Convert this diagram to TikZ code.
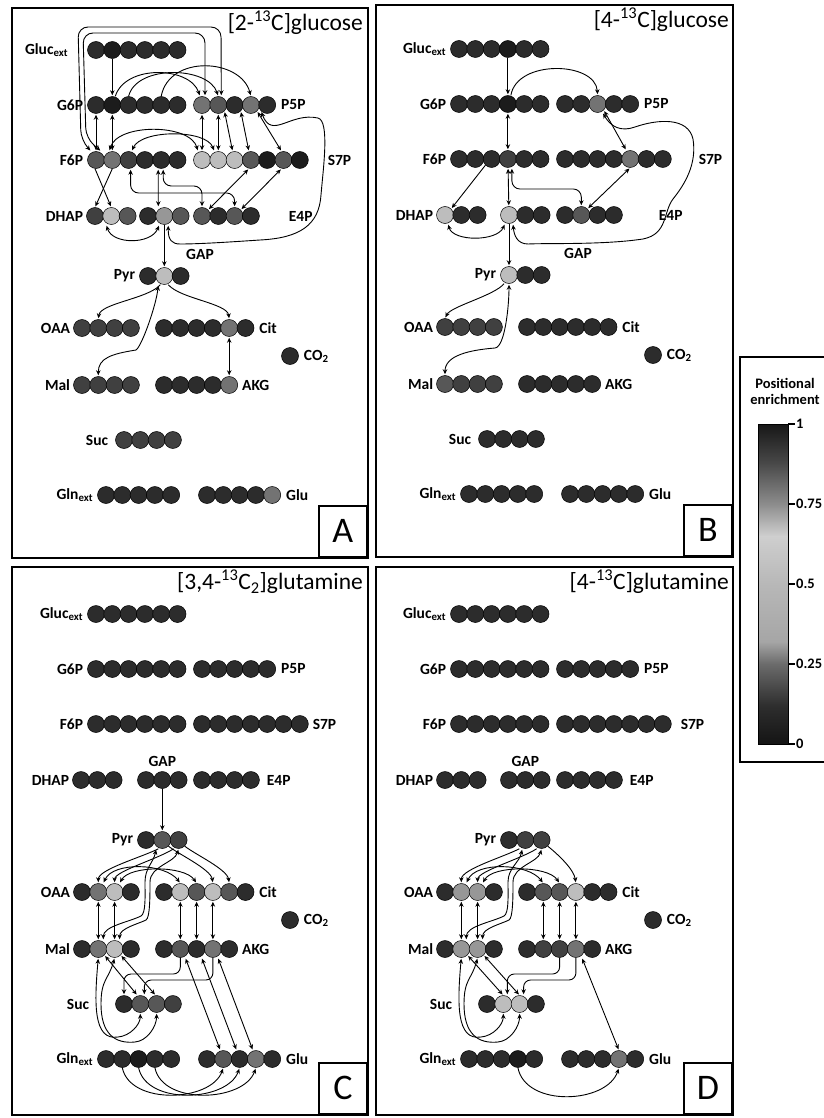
\documentclass[tikz,border=0pt]{standalone}
\usepackage{fontspec}
\setmainfont{Carlito}
\usetikzlibrary{arrows.meta,positioning}
\definecolor{cK}{HTML}{1C1C1C}
\definecolor{cD}{HTML}{2C2C2C}
\definecolor{cG}{HTML}{404040}
\definecolor{cM}{HTML}{575757}
\definecolor{cN}{HTML}{737373}
\definecolor{cS}{HTML}{979797}
\definecolor{cL}{HTML}{BDBDBD}
\pgfdeclareverticalshading{enrich}{100bp}{color(0bp)=(black!92); color(25bp)=(black!92); color(31bp)=(black!82); color(37.5bp)=(black!58); color(41bp)=(black!35); color(50bp)=(black!28); color(57.5bp)=(black!19); color(62.5bp)=(black!45); color(69bp)=(black!72); color(75bp)=(black!91); color(100bp)=(black!91)}
\newcommand\carbons[4]{\foreach \fc [count=\i] in {#4}{\node[atom,fill=\fc] (#1-\i) at ({#2+(\i-1)*16.3},#3) {};}}
\newcommand\names[3]{%
  \node[lab,left=#2 of #1-Gluc-1] (#1-nGluc) {Gluc\textsubscript{ext}};
  \node[lab,left=3pt of #1-G6P-1] (#1-nG6P) {G6P};
  \node[lab,right=4pt of #1-P5P-5] (#1-nP5P) {P5P};
  \node[lab,left=3pt of #1-F6P-1] (#1-nF6P) {F6P};
  \node[lab,left=2pt of #1-DHAP-1] (#1-nDHAP) {DHAP};
  \node[lab,left=3pt of #1-Pyr-1] (#1-nPyr) {Pyr};
  \node[lab,left=2pt of #1-OAA-1] (#1-nOAA) {OAA};
  \node[lab,right=4pt of #1-Cit-6] (#1-nCit) {Cit};
  \node[lab,right=4pt of #1-CO2] (#1-nCO2) {CO\textsubscript{2}};
  \node[lab,left=2pt of #1-Mal-1] (#1-nMal) {Mal};
  \node[lab,right=3pt of #1-AKG-5] (#1-nAKG) {AKG};
  \node[lab,left=#3 of #1-Suc-1] (#1-nSuc) {Suc};
  \node[lab,left=3pt of #1-Gln-1] (#1-nGln) {Gln\textsubscript{ext}};
  \node[lab,right=4pt of #1-Glu-5] (#1-nGlu) {Glu};}

\begin{document}
\begin{tikzpicture}[x=1pt,y=-1pt,
    atom/.style={circle,draw=black,line width=0.5pt,minimum size=17pt,inner sep=0pt},
    lab/.style={font=\fontsize{15.5}{17}\selectfont\bfseries,inner sep=1pt},
    flow/.style={-{Stealth[length=5pt,width=4.5pt]},line width=0.9pt,shorten >=1pt},
    dbl/.style={{Stealth[length=5pt,width=4.5pt]}-{Stealth[length=5pt,width=4.5pt]},line width=0.9pt,shorten >=1pt,shorten <=1pt},
    panel/.style={line width=2.2pt},
    ttl/.style={font=\fontsize{23.5}{25}\selectfont,inner sep=2pt,anchor=north east},
    tagbox/.style={draw,line width=2.2pt,minimum width=48pt,minimum height=51pt,anchor=south east,font=\fontsize{36}{38}\selectfont,inner sep=0pt},
    cbtext/.style={font=\fontsize{14.5}{16}\selectfont\bfseries,inner sep=1pt}
  ]
  \fill[white] (0,0) rectangle (823,1118);
  \useasboundingbox (0,0) rectangle (823,1118);

  % panel A
  \carbons{A-Gluc}{96}{50}{cD,cK,cD,cD,cD,cD}
  \carbons{A-G6P}{96}{105}{cD,cK,cD,cD,cD,cD}
  \carbons{A-P5P}{202}{105}{cN,cM,cD,cN,cD}
  \carbons{A-F6P}{96}{160}{cM,cN,cG,cD,cD,cD}
  \carbons{A-S7P}{202}{160}{cL,cL,cL,cM,cK,cM,cK}
  \carbons{A-DHAP}{95}{216}{cG,cL,cM}
  \carbons{A-GAP}{148}{216}{cD,cS,cM}
  \carbons{A-E4P}{202}{216}{cM,cD,cM,cD}
  \carbons{A-Pyr}{148}{276}{cD,cL,cD}
  \carbons{A-OAA}{82}{328}{cG,cG,cG,cG}
  \carbons{A-Cit}{164}{328}{cD,cD,cD,cD,cN,cD}
  \node[atom,fill=cD] (A-CO2) at (290,356) {};
  \carbons{A-Mal}{82}{385}{cG,cG,cG,cG}
  \carbons{A-AKG}{164}{385}{cD,cD,cD,cD,cN}
  \carbons{A-Suc}{124}{440}{cG,cG,cG,cG}
  \carbons{A-Gln}{106}{495}{cD,cD,cD,cD,cD}
  \carbons{A-Glu}{207}{495}{cD,cD,cD,cD,cN}
  \names{A}{18pt}{6pt}
  \node[lab,right=18pt of A-S7P-7] (A-nS7P) {S7P};
  \node[lab,right=28pt of A-E4P-4] (A-nE4P) {E4P};
  \node[lab] (A-nGAP) at (200,254) {GAP};
  \draw[flow] (A-Gluc-2) -- (A-G6P-2);
  \draw[flow] ([xshift=3pt]A-G6P-2.north) .. controls +(10,-32) and +(-10,-30) .. ([xshift=-2pt]A-P5P-1.north);
  \draw[flow] (A-G6P-3.north) .. controls +(8,-32) and +(-10,-30) .. (A-P5P-2.north);
  \draw[flow] (A-G6P-5.north) .. controls +(8,-42) and +(-10,-38) .. (A-P5P-4.north);
  \draw[dbl,rounded corners=10pt] ([xshift=-5pt]A-F6P-1.north) -- (81,140) -- (78,27) -- (221,27) -- ([xshift=3pt]A-P5P-2.north);
  \draw[dbl,rounded corners=10pt] ([xshift=5pt]A-F6P-1.north) -- (86,138) -- (83,33) -- (205,33) -- ([xshift=3pt]A-P5P-1.north);
  \draw[dbl] (A-G6P-1) -- (A-F6P-1);
  \draw[dbl] (A-G6P-2) -- (A-F6P-2);
  \draw[dbl] ([xshift=-3pt]A-F6P-2.north) .. controls +(8,-28) and +(-8,-28) .. ([xshift=-4pt]A-S7P-1.north);
  \draw[dbl] ([xshift=3pt]A-F6P-3.north) .. controls +(10,-22) and +(-8,-22) .. ([xshift=-4pt]A-S7P-2.north);
  \draw[dbl] (A-P5P-1) -- (A-S7P-1);
  \draw[dbl] (A-P5P-2) -- (A-S7P-2);
  \draw[dbl] (A-P5P-2.south east) -- ([xshift=-2pt]A-S7P-3.north);
  \draw[dbl] (A-P5P-3.south east) -- ([xshift=-2pt]A-S7P-4.north);
  \draw[dbl] (A-P5P-4.south east) -- ([xshift=-2pt]A-S7P-6.north);
  \draw[dbl] (A-P5P-5.south west) .. controls (272,140) and (290,112) .. (318,118) .. controls (330,121) and (323,170) .. (321,195) .. controls (319,225) and (300,238) .. (260,240) .. controls (230,242) and (200,244) .. (180,244) .. controls (172,244) and (168,240) .. ([xshift=4pt]A-GAP-2.south);
  \draw[flow] ([xshift=-1pt]A-F6P-1.south) -- (A-DHAP-2.north);
  \draw[flow] (A-F6P-2.south) -- (A-DHAP-1.north);
  \draw[dbl] ([xshift=-3pt]A-F6P-5.south) -- ([xshift=-6pt]A-GAP-2.north);
  \draw[dbl,rounded corners=8pt] ([xshift=2pt]A-F6P-5.south) |- (202,186) -- (A-E4P-1.north);
  \draw[dbl,rounded corners=8pt] ([xshift=2pt]A-F6P-3.south) |- (234.6,193) -- (A-E4P-3.north);
  \draw[dbl] ([xshift=-2pt]A-S7P-4.south) -- (A-E4P-1.north east);
  \draw[dbl] ([xshift=-2pt]A-S7P-6.south) -- (A-E4P-3.north east);
  \draw[dbl] ([xshift=-5pt]A-DHAP-2.south) .. controls +(6,20) and +(-8,20) .. ([xshift=-5pt]A-GAP-2.south);
  \draw[flow] (A-GAP-2) -- (A-Pyr-2);
  \draw[flow] ([xshift=-4pt]A-Pyr-2.south) .. controls +(-12,14) and +(2,-16) .. (A-OAA-2.north);
  \draw[flow] ([xshift=4pt]A-Pyr-2.south) .. controls +(12,14) and +(-2,-16) .. (A-Cit-5.north);
  \draw[dbl] (A-Mal-2.north) .. controls +(0,-18) and +(-25,4) .. (136,350) .. controls +(6,-4) and +(-2,20) .. ([xshift=-6pt]A-Pyr-2.south);
  \draw[dbl] (A-Cit-5) -- (A-AKG-5);

  % panel B
  \begin{scope}[shift={(363,-1)}]
  \carbons{B-Gluc}{96}{50}{cD,cD,cD,cK,cD,cD}
  \carbons{B-G6P}{96}{105}{cD,cD,cD,cK,cD,cD}
  \carbons{B-P5P}{202}{105}{cD,cD,cN,cD,cD}
  \carbons{B-F6P}{96}{160}{cD,cD,cD,cG,cD,cD}
  \carbons{B-S7P}{202}{160}{cD,cD,cD,cD,cN,cD,cD}
  \carbons{B-DHAP}{82}{216}{cL,cD,cD}
  \carbons{B-GAP}{146}{216}{cL,cD,cD}
  \carbons{B-E4P}{202}{216}{cD,cM,cD,cD}
  \carbons{B-Pyr}{146}{276}{cL,cD,cD}
  \carbons{B-OAA}{82}{328}{cG,cG,cG,cG}
  \carbons{B-Cit}{164}{328}{cD,cD,cD,cD,cD,cD}
  \node[atom,fill=cD] (B-CO2) at (290,356) {};
  \carbons{B-Mal}{82}{385}{cM,cG,cG,cG}
  \carbons{B-AKG}{164}{385}{cD,cD,cD,cD,cD}
  \carbons{B-Suc}{124}{440}{cD,cD,cD,cD}
  \carbons{B-Gln}{106}{495}{cD,cD,cD,cD,cD}
  \carbons{B-Glu}{207}{495}{cD,cD,cD,cD,cD}
  \names{B}{3pt}{6pt}
  \node[lab,right=26pt of B-S7P-7] (B-nS7P) {S7P};
  \node[lab,right=35pt of B-E4P-4] (B-nE4P) {E4P};
  \node[lab] (B-nGAP) at (215,254) {GAP};
  \draw[flow] (B-Gluc-4) -- (B-G6P-4);
  \draw[flow] ([xshift=3pt]B-G6P-4.north) .. controls +(6,-36) and +(-2,-34) .. (B-P5P-3.north);
  \draw[dbl] (B-G6P-4) -- (B-F6P-4);
  \draw[dbl] (B-P5P-3.south east) -- ([xshift=-4pt]B-S7P-5.north);
  \draw[dbl] ([xshift=5pt]B-P5P-3.south) .. controls (248,128) and (258,133) .. (272,128) .. controls (295,120) and (325,118) .. (330,140) .. controls (334,165) and (322,185) .. (310,200) .. controls (300,213) and (305,235) .. (280,240) .. controls (240,246) and (185,244) .. (165,245) .. controls (154,245) and (151,236) .. ([xshift=4pt]B-GAP-1.south);
  \draw[flow] (B-F6P-3.south west) -- (B-DHAP-1.north east);
  \draw[dbl] (B-F6P-4) -- (B-GAP-1);
  \draw[dbl,rounded corners=8pt] ([xshift=4pt]B-F6P-4.south) |- (218.3,190) -- (B-E4P-2.north);
  \draw[dbl] (B-S7P-5.south) -- (B-E4P-2.north east);
  \draw[dbl] ([xshift=3pt]B-DHAP-1.south) .. controls +(5,18) and +(-8,18) .. ([xshift=-4pt]B-GAP-1.south);
  \draw[flow] (B-GAP-1) -- (B-Pyr-1);
  \draw[flow] ([xshift=-5pt]B-Pyr-1.south) .. controls +(-10,12) and +(6,-12) .. (B-OAA-1.north);
  \draw[dbl] (B-Mal-1.north) .. controls +(0,-20) and +(-25,2) .. (132,349) .. controls +(10,-1) and +(0,22) .. (B-Pyr-1.south);
  \end{scope}

  % panel C
  \begin{scope}[shift={(0,564)}]
  \carbons{C-Gluc}{96}{50}{cD,cD,cD,cD,cD,cD}
  \carbons{C-G6P}{96}{105}{cD,cD,cD,cD,cD,cD}
  \carbons{C-P5P}{202}{105}{cD,cD,cD,cD,cD}
  \carbons{C-F6P}{96}{160}{cD,cD,cD,cD,cD,cD}
  \carbons{C-S7P}{202}{160}{cD,cD,cD,cD,cD,cD,cD}
  \carbons{C-DHAP}{81}{216}{cD,cD,cD}
  \carbons{C-GAP}{146}{216}{cD,cD,cD}
  \carbons{C-E4P}{202}{216}{cD,cD,cD,cD}
  \carbons{C-Pyr}{146}{276}{cD,cM,cG}
  \carbons{C-OAA}{82}{328}{cD,cN,cL,cD}
  \carbons{C-Cit}{164}{328}{cD,cL,cM,cL,cM,cD}
  \node[atom,fill=cD] (C-CO2) at (290,356) {};
  \carbons{C-Mal}{82}{385}{cD,cN,cL,cD}
  \carbons{C-AKG}{164}{385}{cD,cM,cD,cN,cD}
  \carbons{C-Suc}{124}{440}{cD,cM,cM,cG}
  \carbons{C-Gln}{106}{495}{cD,cD,cK,cD,cD}
  \carbons{C-Glu}{207}{495}{cD,cM,cD,cN,cD}
  \names{C}{3pt}{25pt}
  \node[lab,right=3pt of C-S7P-7] (C-nS7P) {S7P};
  \node[lab,right=6pt of C-E4P-4] (C-nE4P) {E4P};
  \node[lab,above=3pt of C-GAP-2] (C-nGAP) {GAP};
  \draw[flow] (C-GAP-2) -- (C-Pyr-2);
  \draw[flow] ([xshift=-4pt]C-Pyr-2.south) .. controls +(-15,8) and +(0,-14) .. (C-OAA-2.north);
  \draw[flow] ([xshift=-5pt]C-Pyr-3.south) .. controls +(-15,10) and +(0,-12) .. (C-OAA-3.north);
  \draw[flow] (C-Pyr-2.south east) .. controls +(10,8) and +(-2,-14) .. (C-Cit-4.north);
  \draw[flow] (C-Pyr-3.south east) .. controls +(10,8) and +(-2,-14) .. (C-Cit-5.north);
  \draw[dbl] ([xshift=5pt]C-OAA-2.north) .. controls +(10,-22) and +(-15,-20) .. (C-Cit-2.north);
  \draw[dbl] ([xshift=5pt]C-OAA-3.north) .. controls +(10,-18) and +(-12,-18) .. (C-Cit-3.north);
  \draw[dbl] ([xshift=5pt]C-Mal-2.north) .. controls +(0,-14) and +(-12,6) .. (141,352) .. controls +(5,-3) and +(0,14) .. (145,318) .. controls +(0,-14) and +(-3,14) .. ([xshift=-6pt]C-Pyr-2.south);
  \draw[dbl] ([xshift=5pt]C-Mal-3.north) .. controls +(0,-12) and +(-8,4) .. (146,356) .. controls +(4,-2) and +(0,14) .. (150,318) .. controls +(0,-16) and +(-4,14) .. (C-Pyr-3.south);
  \draw[dbl] (C-OAA-2) -- (C-Mal-2);
  \draw[dbl] (C-OAA-3) -- (C-Mal-3);
  \foreach \k in {2,3,4} \draw[dbl] (C-Cit-\k) -- (C-AKG-\k);
  \draw[dbl] (C-Mal-2.south east) -- ([xshift=-3pt]C-Suc-2.north);
  \draw[dbl] (C-Mal-3.south east) -- ([xshift=-1pt]C-Suc-3.north);
  \draw[flow,rounded corners=7pt] (C-AKG-2.south) |- (124,410) -- (C-Suc-1.north);
  \draw[flow,rounded corners=7pt] (C-AKG-4.south) |- (144.3,416) -- ([xshift=4pt]C-Suc-2.north);
  \draw[dbl] (C-Mal-2.south) .. controls +(-4,45) and +(-25,4) .. (118,473) .. controls +(12,-1) and +(0,12) .. (C-Suc-2.south);
  \draw[dbl] (C-Mal-3.south) .. controls +(-6,22) and +(0,-25) .. (101,440) .. controls +(0,30) and +(-20,2) .. (135,478) .. controls +(12,-1) and +(0,14) .. (C-Suc-3.south);
  \foreach \k in {2,3,4} \draw[dbl] ([xshift=5pt]C-AKG-\k.south) -- ([xshift=-3pt]C-Glu-\k.north);
  \foreach \k in {2,3,4} \draw[flow] (C-Gln-\k.south) .. controls +(8,38) and +(-12,34) .. (C-Glu-\k.south);
  \end{scope}

  % panel D
  \begin{scope}[shift={(363,564)}]
  \carbons{D-Gluc}{96}{50}{cD,cD,cD,cD,cD,cD}
  \carbons{D-G6P}{96}{105}{cD,cD,cD,cD,cD,cD}
  \carbons{D-P5P}{202}{105}{cD,cD,cD,cD,cD}
  \carbons{D-F6P}{96}{160}{cD,cD,cD,cD,cD,cD}
  \carbons{D-S7P}{202}{160}{cD,cD,cD,cD,cD,cD,cD}
  \carbons{D-DHAP}{82}{216}{cD,cD,cD}
  \carbons{D-GAP}{146}{216}{cD,cD,cD}
  \carbons{D-E4P}{202}{216}{cD,cD,cD,cD}
  \carbons{D-Pyr}{146}{276}{cD,cG,cG}
  \carbons{D-OAA}{82}{328}{cD,cS,cS,cD}
  \carbons{D-Cit}{164}{328}{cD,cM,cM,cL,cD,cD}
  \node[atom,fill=cD] (D-CO2) at (290,356) {};
  \carbons{D-Mal}{82}{385}{cD,cS,cS,cD}
  \carbons{D-AKG}{164}{385}{cD,cG,cG,cN,cD}
  \carbons{D-Suc}{124}{440}{cD,cL,cL,cD}
  \carbons{D-Gln}{106}{495}{cD,cD,cD,cK,cD}
  \carbons{D-Glu}{207}{495}{cD,cD,cD,cN,cD}
  \names{D}{3pt}{25pt}
  \node[lab,right=8pt of D-S7P-7] (D-nS7P) {S7P};
  \node[lab,right=6pt of D-E4P-4] (D-nE4P) {E4P};
  \node[lab,above=3pt of D-GAP-2] (D-nGAP) {GAP};
  \draw[flow] ([xshift=-6pt]D-Pyr-2.south) .. controls +(-15,8) and +(0,-14) .. (D-OAA-2.north);
  \draw[flow] ([xshift=-5pt]D-Pyr-3.south) .. controls +(-15,10) and +(0,-12) .. (D-OAA-3.north);
  \draw[flow] (D-Pyr-3.south east) .. controls +(10,8) and +(-2,-14) .. (D-Cit-4.north);
  \draw[dbl] ([xshift=5pt]D-OAA-2.north) .. controls +(10,-22) and +(-15,-20) .. (D-Cit-2.north);
  \draw[dbl] ([xshift=5pt]D-OAA-3.north) .. controls +(10,-18) and +(-12,-18) .. (D-Cit-3.north);
  \draw[dbl] ([xshift=5pt]D-Mal-2.north) .. controls +(0,-14) and +(-12,6) .. (141,352) .. controls +(5,-3) and +(0,14) .. (145,318) .. controls +(0,-14) and +(-3,14) .. ([xshift=-3pt]D-Pyr-2.south);
  \draw[dbl] ([xshift=5pt]D-Mal-3.north) .. controls +(0,-12) and +(-8,4) .. (146,356) .. controls +(4,-2) and +(0,14) .. (150,318) .. controls +(0,-16) and +(-4,14) .. (D-Pyr-3.south);
  \draw[dbl] (D-OAA-2) -- (D-Mal-2);
  \draw[dbl] (D-OAA-3) -- (D-Mal-3);
  \foreach \k in {2,3,4} \draw[dbl] (D-Cit-\k) -- (D-AKG-\k);
  \draw[dbl] (D-Mal-2.south east) -- (D-Suc-2.north);
  \draw[dbl] (D-Mal-3.south east) -- (D-Suc-3.north);
  \draw[flow,rounded corners=7pt] (D-AKG-3.south) |- (144.3,410) -- ([xshift=4pt]D-Suc-2.north);
  \draw[flow,rounded corners=7pt] (D-AKG-4.south) |- (160.6,416) -- ([xshift=4pt]D-Suc-3.north);
  \draw[dbl] (D-Mal-2.south) .. controls +(-4,45) and +(-25,4) .. (118,473) .. controls +(12,-1) and +(0,12) .. (D-Suc-2.south);
  \draw[dbl] (D-Mal-3.south) .. controls +(-6,22) and +(0,-25) .. (101,440) .. controls +(0,30) and +(-20,2) .. (135,478) .. controls +(12,-1) and +(0,14) .. (D-Suc-3.south);
  \draw[dbl] ([xshift=6pt]D-AKG-4.south) -- (D-Glu-4.north);
  \draw[flow] (D-Gln-4.south) .. controls +(8,40) and +(-12,36) .. (D-Glu-4.south);
  \end{scope}

  % frames, titles, tags
  \draw[panel] (12,8) rectangle (368,558);
  \draw[panel] (376,5) rectangle (733,557);
  \draw[panel] (12,567) rectangle (368,1115);
  \draw[panel] (376,567) rectangle (733,1115);
  \node[ttl] (A-title) at (365,9) {[2-\textsuperscript{13}C]glucose};
  \node[ttl] (B-title) at (731,6) {[4-\textsuperscript{13}C]glucose};
  \node[ttl] (C-title) at (365,568) {[3,4-\textsuperscript{13}C\textsubscript{2}]glutamine};
  \node[ttl] (D-title) at (731,568) {[4-\textsuperscript{13}C]glutamine};
  \node[tagbox] (A-tag) at (368,558) {A};
  \node[tagbox] (B-tag) at (733,557) {B};
  \node[tagbox] (C-tag) at (368,1115) {C};
  \node[tagbox] (D-tag) at (733,1115) {D};

  % colour bar
  \draw[line width=2pt] (826,357) -- (740,357) -- (740,762) -- (826,762);
  \node[cbtext,align=center] (cb-title) at (785,391) {Positional\\enrichment};
  \shade[shading=enrich] (758,424) rectangle (788,744);
  \draw[line width=0.8pt] (758,424) rectangle (788,744);
  \foreach \v/\t [count=\j] in {0/0,0.25/0.25,0.5/0.5,0.75/0.75,1/1} {
    \draw[line width=1.5pt] (788,{744-320*\v}) -- (795,{744-320*\v});
    \node[cbtext,anchor=west] (cb-tick\j) at (795,{744-320*\v}) {\t};
  }
\end{tikzpicture}
\end{document}
